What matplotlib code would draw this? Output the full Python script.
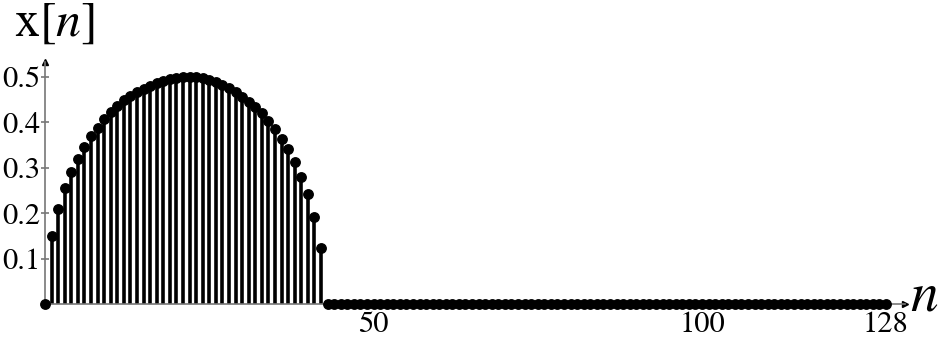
import matplotlib
matplotlib.use("Agg")
import matplotlib.pyplot as plt
import numpy as np

# ---- data ----
n_nonzero = list(range(0, 43))
x_nonzero = [0.0,
             0.150, 0.209, 0.256, 0.291, 0.320, 0.346, 0.369, 0.388, 0.407, 0.423,
             0.436, 0.449, 0.459, 0.468, 0.474, 0.480, 0.486, 0.491, 0.495, 0.498,
             0.499, 0.500, 0.499, 0.497, 0.493, 0.488, 0.482, 0.475, 0.468, 0.457,
             0.446, 0.433, 0.420, 0.403, 0.385, 0.363, 0.341, 0.313, 0.279, 0.242,
             0.192, 0.123]
n_zero = list(range(43, 129))
x_zero = [0.0] * len(n_zero)

n_all = n_nonzero + n_zero
x_all = x_nonzero + x_zero

xtick_vals = [50, 100, 128]
xtick_labels = ["50", "100", "128"]
ytick_vals = [0.1, 0.2, 0.3, 0.4, 0.5]
ytick_labels = ["0.1", "0.2", "0.3", "0.4", "0.5"]

plt.rcParams['mathtext.fontset'] = 'stix'
plt.rcParams['font.family'] = ['STIXGeneral', 'Liberation Serif', 'DejaVu Serif']

W, H = 942, 344
fig = plt.figure(figsize=(W / 100, H / 100), dpi=100)

left_px, right_px = 45, 905
bottom_px, top_px = 304, 62
ax = fig.add_axes([left_px / W, (H - bottom_px) / H,
                   (right_px - left_px) / W, (bottom_px - top_px) / H])

xmax = 128 * (right_px - left_px) / (886 - left_px)
ymax = 0.5 * (bottom_px - top_px) / (bottom_px - 77)
ax.set_xlim(0, xmax)
ax.set_ylim(0, ymax)

axis_gray = "#777777"
for s in ["top", "right"]:
    ax.spines[s].set_visible(False)
for s in ["left", "bottom"]:
    ax.spines[s].set_color(axis_gray)
    ax.spines[s].set_linewidth(1.2)

ml, sl, bl = ax.stem(n_all, x_all, linefmt='k-', markerfmt='ko', basefmt=' ')
plt.setp(sl, linewidth=2.6, clip_on=False)
plt.setp(ml, markersize=6.8, clip_on=False, zorder=4)

# arrow heads
ax.plot([1], [0], marker='>', color='black', markersize=5, transform=ax.transAxes, clip_on=False)
ax.plot([0], [1], marker='^', color='black', markersize=5, transform=ax.transAxes, clip_on=False)

ax.set_yticks(ytick_vals)
ax.set_yticklabels(ytick_labels)
ax.set_xticks(xtick_vals)
ax.set_xticklabels(xtick_labels)
ax.tick_params(axis='y', direction='inout', length=6, width=1.2, color=axis_gray,
               labelsize=22, pad=0)
ax.tick_params(axis='x', length=0, labelsize=22, pad=5)

fig.text(14 / W, 1 - 24 / H, r"$\mathrm{x}[n]$", fontsize=36, va='center', ha='left')
fig.text(910 / W, 1 - 297 / H, r"$n$", fontsize=40, va='center', ha='left')

fig.savefig("out.png", dpi=100)
